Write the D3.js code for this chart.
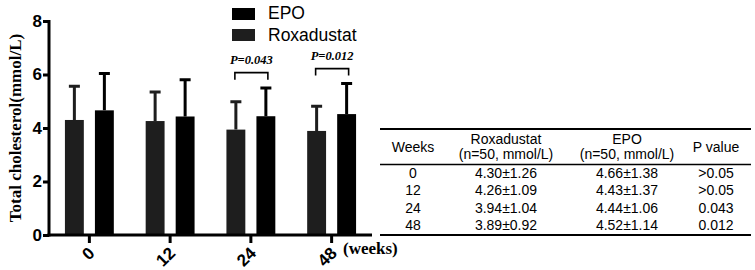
<!DOCTYPE html>
<html>
<head>
<meta charset="utf-8">
<script src="https://cdn.jsdelivr.net/npm/d3@7"></script>
<style>
  body { margin: 0; background: #fff; }
  svg { display: block; }
</style>
</head>
<body>
<svg id="canvas" width="755" height="270"></svg>
<script>
const weeks = ["0", "12", "24", "48"];
const series = ["Roxadustat", "EPO"];
const roxaMean = [4.30, 4.26, 3.94, 3.89];
const roxaSD = [1.26, 1.09, 1.04, 0.92];
const epoMean = [4.66, 4.43, 4.44, 4.52];
const epoSD = [1.38, 1.37, 1.06, 1.14];
const pValues = [">0.05", ">0.05", "0.043", "0.012"];
const pNotes = [
  { week: "24", text: "P=0.043", level: 6.07 },
  { week: "48", text: "P=0.012", level: 6.22 },
];
const yTicks = [0, 2, 4, 6, 8];
const tableHead = ["Weeks", ["Roxadustat", "(n=50, mmol/L)"], ["EPO", "(n=50, mmol/L)"], "P value"];

const settings = {
  left: 49, right: 372, top: 21, bottom: 235,
  roxaColor: "#1e1e1e", epoColor: "#000",
};

const svg = d3.select("#canvas");

const rows = weeks.map((w, i) => ({
  week: w,
  vals: [
    { s: "Roxadustat", mean: roxaMean[i], sd: roxaSD[i] },
    { s: "EPO", mean: epoMean[i], sd: epoSD[i] },
  ],
}));

const x = d3.scaleBand()
  .domain(weeks)
  .range([settings.left, settings.right]);

const x1 = d3.scaleBand()
  .domain(series)
  .range([-30, 30])
  .paddingInner(0.37)
  .paddingOuter(0.185);

const y = d3.scaleLinear()
  .domain([0, 8])
  .range([settings.bottom, settings.top]);

const color = d3.scaleOrdinal().domain(series).range([settings.roxaColor, settings.epoColor]);
const cx = (w) => x(w) + x.bandwidth() / 2;

// bars
const groups = svg.append("g")
  .selectAll("g")
  .data(rows)
  .join("g")
  .attr("transform", d => `translate(${cx(d.week)},0)`);

groups.selectAll("rect")
  .data(d => d.vals)
  .join("rect")
  .attr("x", d => x1(d.s))
  .attr("width", x1.bandwidth())
  .attr("y", d => y(d.mean))
  .attr("height", d => y(0) - y(d.mean))
  .attr("fill", d => color(d.s));

// upper error bars only
groups.selectAll("path.err")
  .data(d => d.vals)
  .join("path")
  .attr("class", "err")
  .attr("d", d => {
    const c = x1(d.s) + x1.bandwidth() / 2;
    return `M${c},${y(d.mean)}V${y(d.mean + d.sd)}M${c - 5.5},${y(d.mean + d.sd)}H${c + 5.5}`;
  })
  .attr("stroke", d => color(d.s))
  .attr("stroke-width", 3)
  .attr("fill", "none");

// axes
const yAxis = svg.append("g")
  .attr("transform", `translate(${settings.left},0)`)
  .call(d3.axisLeft(y).tickValues(yTicks).tickFormat(d3.format("d")).tickSize(6).tickPadding(1).tickSizeOuter(0));

const xAxis = svg.append("g")
  .attr("transform", `translate(0,${settings.bottom})`)
  .call(d3.axisBottom(x).tickSize(8).tickSizeOuter(0));

[yAxis, xAxis].forEach(a => {
  a.select(".domain").attr("stroke", "#000").attr("stroke-width", 3);
  a.selectAll(".tick line").attr("stroke", "#000").attr("stroke-width", 3);
  a.selectAll("text")
    .attr("font-family", "'Liberation Sans', Arial, sans-serif")
    .attr("font-weight", "bold")
    .attr("font-size", "17px")
    .attr("fill", "#000");
});
yAxis.select(".domain").attr("d", `M0,${settings.top - 1}V${settings.bottom + 1.5}`);
xAxis.select(".domain").attr("d", `M${settings.left - 1.5},0H${settings.right}`);

xAxis.selectAll(".tick text")
  .attr("text-anchor", "end")
  .attr("dy", "0.35em")
  .attr("y", 0)
  .attr("transform", "translate(2,15) rotate(-45)");

svg.append("text")
  .attr("transform", `translate(21,${(settings.top + settings.bottom) / 2}) rotate(-90)`)
  .attr("text-anchor", "middle")
  .attr("font-family", "'Liberation Serif', 'Times New Roman', serif")
  .attr("font-weight", "bold")
  .attr("font-size", "17px")
  .text("Total cholesterol(mmol/L)");

svg.append("text")
  .attr("x", 343)
  .attr("y", 254)
  .attr("font-family", "'Liberation Serif', 'Times New Roman', serif")
  .attr("font-weight", "bold")
  .attr("font-size", "17px")
  .text("(weeks)");

// legend
const legend = svg.append("g")
  .attr("font-family", "'Liberation Sans', Arial, sans-serif")
  .attr("font-size", "17.5px");
["EPO", "Roxadustat"].forEach((s, i) => {
  legend.append("rect")
    .attr("x", 232).attr("y", 8 + i * 21)
    .attr("width", 23).attr("height", 12)
    .attr("fill", color(s));
  legend.append("text")
    .attr("x", 268).attr("y", 19 + i * 21.5)
    .text(s);
});

// significance brackets
const notes = svg.append("g");
pNotes.forEach(n => {
  const x0 = cx(n.week) + x1("Roxadustat") + x1.bandwidth() / 2 - 1;
  const x2 = cx(n.week) + x1("EPO") + x1.bandwidth() / 2 + 2;
  const yy = y(n.level);
  notes.append("path")
    .attr("d", `M${x0},${yy + 7}V${yy}H${x2}V${yy + 7}`)
    .attr("stroke", "#000")
    .attr("stroke-width", 1.6)
    .attr("fill", "none");
  notes.append("text")
    .attr("x", (x0 + x2) / 2)
    .attr("y", yy - 9)
    .attr("text-anchor", "middle")
    .attr("font-family", "'Liberation Serif', 'Times New Roman', serif")
    .attr("font-weight", "bold")
    .attr("font-style", "italic")
    .attr("font-size", "12.5px")
    .text(n.text);
});

// table
const colX = [413, 506, 627, 716];
const table = svg.append("g")
  .attr("font-family", "'Liberation Sans', Arial, sans-serif")
  .attr("font-size", "14px")
  .attr("text-anchor", "middle");

table.append("line").attr("x1", 380).attr("x2", 751).attr("y1", 129).attr("y2", 129)
  .attr("stroke", "#000").attr("stroke-width", 2);
table.append("line").attr("x1", 380).attr("x2", 751).attr("y1", 164.5).attr("y2", 164.5)
  .attr("stroke", "#000").attr("stroke-width", 1.5);
table.append("line").attr("x1", 380).attr("x2", 751).attr("y1", 235).attr("y2", 235)
  .attr("stroke", "#000").attr("stroke-width", 2);

tableHead.forEach((h, i) => {
  if (Array.isArray(h)) {
    table.append("text").attr("x", colX[i]).attr("y", 144).text(h[0]);
    table.append("text").attr("x", colX[i]).attr("y", 158.5).text(h[1]);
  } else {
    table.append("text").attr("x", colX[i]).attr("y", 152).text(h);
  }
});

weeks.forEach((w, i) => {
  const cells = [w, `${roxaMean[i].toFixed(2)}±${roxaSD[i].toFixed(2)}`,
    `${epoMean[i].toFixed(2)}±${epoSD[i].toFixed(2)}`, pValues[i]];
  cells.forEach((c, j) => {
    table.append("text")
      .attr("x", colX[j])
      .attr("y", 178 + i * 17.3)
      .text(c);
  });
});
</script>
</body>
</html>
